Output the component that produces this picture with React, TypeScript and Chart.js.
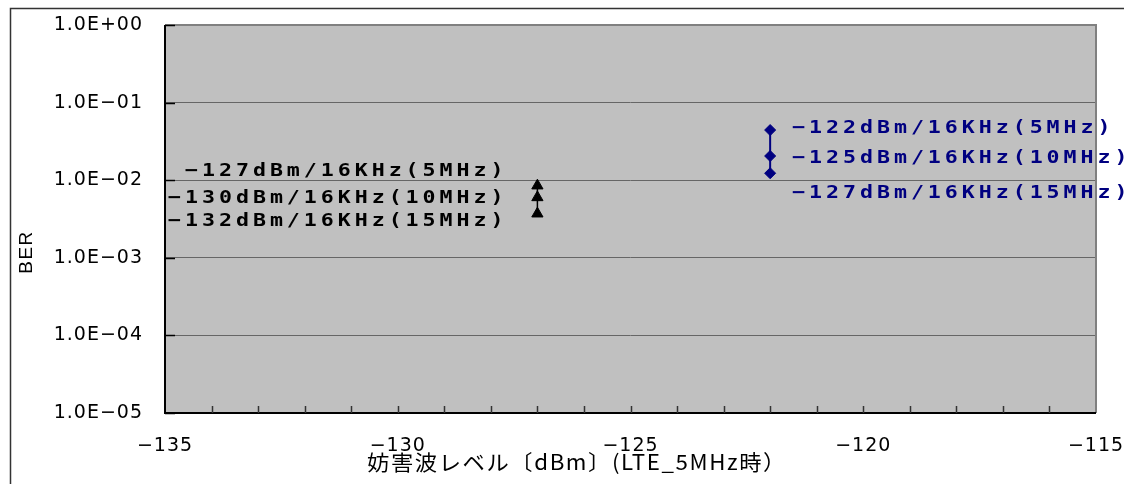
import React, { useEffect, useRef } from 'react';
import { Chart, registerables } from 'chart.js';

Chart.register(...registerables);

// ---- data ----
const X_MIN = -135;
const X_MAX = -115;
const X_TICK_VALUES = [-135, -130, -125, -120, -115];
const X_TICK_LABELS = ['−135', '−130', '−125', '−120', '−115'];
const Y_MIN = 1e-5;
const Y_MAX = 1;
const Y_TICK_VALUES = [1e-5, 1e-4, 1e-3, 1e-2, 1e-1, 1];
const Y_TICK_LABELS = ['1.0E−05', '1.0E−04', '1.0E−03', '1.0E−02', '1.0E−01', '1.0E+00'];

const X_TITLE = '妨害波レベル〔dBm〕(LTE_5MHz時）';
const Y_TITLE = 'BER';

const S1_X = [-127, -127, -127];
const S1_Y = [0.0085, 0.006, 0.0037];
const S1_LABELS = ['−127dBm/16KHz(5MHz)', '−130dBm/16KHz(10MHz)', '−132dBm/16KHz(15MHz)'];

const S2_X = [-122, -122, -122];
const S2_Y = [0.0443, 0.0205, 0.0123];
const S2_LABELS = ['−122dBm/16KHz(5MHz)', '−125dBm/16KHz(10MHz)', '−127dBm/16KHz(15MHz)'];

// ---- styling ----
const LABEL_STYLE = [
  { color: '#000000', align: 'right', dx: -30, dy: [-14, 1, 8], labels: S1_LABELS },
  { color: '#000080', align: 'left', dx: 22, dy: [-2, 2, 20], labels: S2_LABELS },
];
const LABEL_STRETCH = 1.2;

const W = 1124;
const H = 484;

const decorPlugin = {
  id: 'decor',
  beforeDraw(chart: any) {
    const { ctx, chartArea: a } = chart;
    ctx.save();
    ctx.fillStyle = '#FFFFFF';
    ctx.fillRect(0, 0, chart.width, chart.height);
    ctx.fillStyle = '#C0C0C0';
    ctx.fillRect(a.left, a.top, a.right - a.left, a.bottom - a.top);
    ctx.restore();
    ctx.letterSpacing = '1px';
  },
  afterDraw(chart: any) {
    const { ctx, chartArea: a } = chart;
    const xs = chart.scales.x;
    const ys = chart.scales.y;
    ctx.save();
    ctx.letterSpacing = '0px';
    // top & right borders (gray)
    ctx.strokeStyle = '#808080';
    ctx.lineWidth = 2;
    ctx.beginPath();
    ctx.moveTo(a.left, a.top);
    ctx.lineTo(a.right, a.top);
    ctx.lineTo(a.right, a.bottom);
    ctx.stroke();
    // left & bottom axes (black)
    ctx.strokeStyle = '#000000';
    ctx.lineWidth = 2;
    ctx.beginPath();
    ctx.moveTo(a.left, a.top);
    ctx.lineTo(a.left, a.bottom);
    ctx.lineTo(a.right, a.bottom);
    ctx.stroke();
    // inside tick marks on x (every unit)
    ctx.strokeStyle = '#333333';
    ctx.lineWidth = 1.5;
    ctx.beginPath();
    for (let v = X_MIN + 1; v < X_MAX; v++) {
      const px = Math.round(xs.getPixelForValue(v)) + 0.5;
      ctx.moveTo(px, a.bottom);
      ctx.lineTo(px, a.bottom - 7);
    }
    ctx.stroke();
    // inside tick marks on y (decades)
    ctx.strokeStyle = '#000000';
    ctx.lineWidth = 1.5;
    ctx.beginPath();
    Y_TICK_VALUES.forEach((v) => {
      const py = Math.round(ys.getPixelForValue(v)) + 0.5;
      ctx.moveTo(a.left, py);
      ctx.lineTo(a.left + 10, py);
    });
    ctx.stroke();

    // data labels
    ctx.font = 'bold 18px "DejaVu Sans Mono"';
    ctx.textBaseline = 'middle';
    ctx.letterSpacing = '3.3px';
    LABEL_STYLE.forEach((st, di) => {
      const meta = chart.getDatasetMeta(di);
      ctx.fillStyle = st.color;
      ctx.textAlign = st.align as CanvasTextAlign;
      meta.data.forEach((pt: any, j: number) => {
        ctx.save();
        ctx.translate(pt.x + st.dx, pt.y + st.dy[j]);
        ctx.scale(LABEL_STRETCH, 1);
        ctx.fillText(st.labels[j], 0, 0);
        ctx.restore();
      });
    });

    // axis titles
    ctx.fillStyle = '#000000';
    ctx.letterSpacing = '1.5px';
    ctx.font = '21px "Noto Sans CJK JP"';
    ctx.textAlign = 'left';
    ctx.textBaseline = 'middle';
    const tw = ctx.measureText(X_TITLE).width;
    const targetW = 420;
    ctx.save();
    ctx.translate(367, 462);
    ctx.scale(targetW / tw, 1);
    ctx.fillText(X_TITLE, 0, 0);
    ctx.restore();

    ctx.save();
    ctx.translate(27, 252);
    ctx.rotate(-Math.PI / 2);
    ctx.textAlign = 'center';
    ctx.font = '19px "Liberation Sans"';
    ctx.letterSpacing = '1.5px';
    ctx.fillText(Y_TITLE, 0, 0);
    ctx.restore();

    // outer frame
    ctx.strokeStyle = '#333333';
    ctx.lineWidth = 1.5;
    ctx.strokeRect(10.5, 8.5, 3000, 3000);
    ctx.restore();
  },
};

export default function App() {
  const ref = useRef<HTMLCanvasElement | null>(null);

  useEffect(() => {
    if (!ref.current) return;
    const chart = new Chart(ref.current, {
      type: 'scatter',
      data: {
        datasets: [
          {
            data: S1_X.map((x, i) => ({ x, y: S1_Y[i] })),
            showLine: true,
            borderColor: '#000000',
            backgroundColor: '#000000',
            borderWidth: 1.5,
            pointStyle: 'triangle',
            pointRadius: 6.5,
            pointBorderWidth: 1,
            pointBorderColor: '#000000',
            pointBackgroundColor: '#000000',
          },
          {
            data: S2_X.map((x, i) => ({ x, y: S2_Y[i] })),
            showLine: true,
            borderColor: '#000080',
            backgroundColor: '#000080',
            borderWidth: 2,
            pointStyle: 'rectRot',
            pointRadius: 5.5,
            pointBorderWidth: 1,
            pointBorderColor: '#000080',
            pointBackgroundColor: '#000080',
          },
        ],
      },
      options: {
        responsive: false,
        animation: false,
        devicePixelRatio: 1,
        layout: { padding: { left: 0, top: 25, right: 28, bottom: 0 } },
        plugins: { legend: { display: false }, tooltip: { enabled: false }, title: { display: false } },
        scales: {
          x: {
            type: 'linear',
            min: X_MIN,
            max: X_MAX,
            border: { display: false },
            grid: { display: false, drawTicks: false },
            afterBuildTicks: (scale: any) => {
              scale.ticks = X_TICK_VALUES.map((v) => ({ value: v }));
            },
            afterFit: (scale: any) => {
              scale.height = H - 413;
              scale.paddingLeft = 0;
              scale.paddingRight = 0;
            },
            ticks: {
              autoSkip: false,
              maxRotation: 0,
              padding: 22,
              color: '#000000',
              font: { family: '"DejaVu Sans"', size: 19 },
              callback: (_v: any, i: number) => X_TICK_LABELS[i],
            },
          },
          y: {
            type: 'logarithmic',
            min: Y_MIN,
            max: Y_MAX,
            border: { display: false },
            grid: { display: true, drawTicks: false, color: '#666666', lineWidth: 1 },
            afterBuildTicks: (scale: any) => {
              scale.ticks = Y_TICK_VALUES.map((v) => ({ value: v }));
            },
            afterFit: (scale: any) => {
              scale.width = 165;
              scale.paddingTop = 0;
              scale.paddingBottom = 0;
            },
            ticks: {
              autoSkip: false,
              padding: 22,
              color: '#000000',
              font: { family: '"DejaVu Sans"', size: 19 },
              callback: (_v: any, i: number) => Y_TICK_LABELS[i],
            },
          },
        },
      },
      plugins: [decorPlugin],
    } as any);
    return () => chart.destroy();
  }, []);

  return (
    <div style={{ position: 'absolute', left: 0, top: 0, width: W, height: H, background: '#fff' }}>
      <canvas ref={ref} width={W} height={H} style={{ display: 'block', width: W, height: H }} />
    </div>
  );
}
